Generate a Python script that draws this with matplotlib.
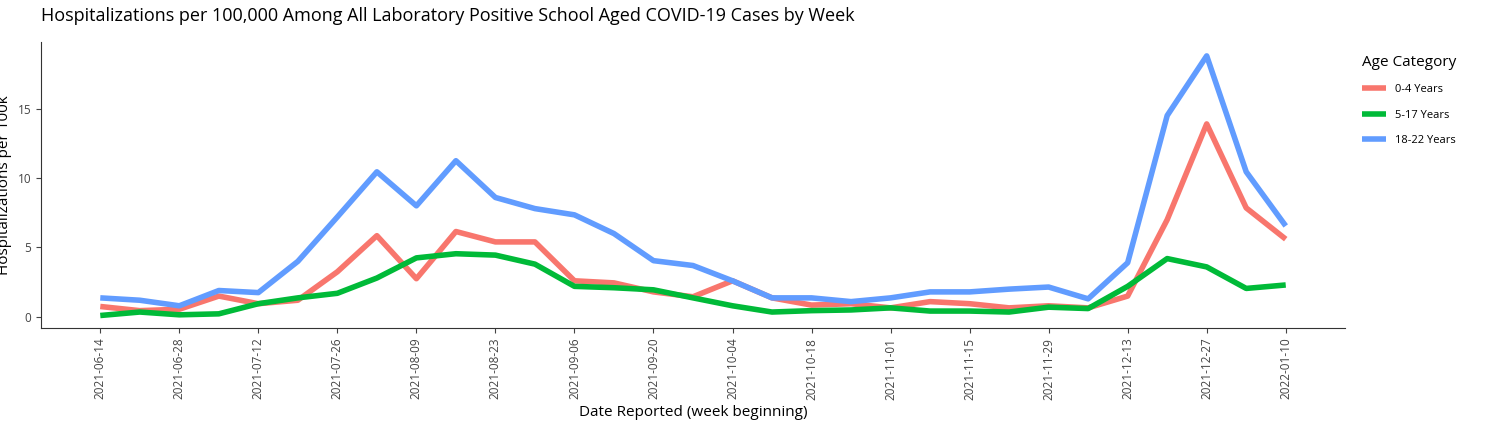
import pandas as pd
import matplotlib.pyplot as plt
import matplotlib.dates as mdates

plt.rcParams['font.family'] = ['Open Sans', 'DejaVu Sans']

weeks = pd.date_range("2021-06-14", "2022-01-10", freq="7D")
age_0_4 = [0.75, 0.45, 0.55, 1.5, 0.95, 1.2, 3.25, 5.85, 2.75, 6.15, 5.4, 5.4, 2.6, 2.45, 1.8,
           1.45, 2.6, 1.37, 0.85, 0.95, 0.65, 1.1, 0.95, 0.65, 0.8, 0.65, 1.5, 7.0, 13.9, 7.85, 5.6]
age_5_17 = [0.1, 0.35, 0.15, 0.22, 0.95, 1.37, 1.7, 2.8, 4.25, 4.55, 4.45, 3.8, 2.2, 2.1, 1.95,
            1.37, 0.8, 0.35, 0.45, 0.5, 0.65, 0.42, 0.42, 0.35, 0.7, 0.6, 2.2, 4.2, 3.6, 2.05, 2.3]
age_18_22 = [1.37, 1.2, 0.8, 1.9, 1.75, 4.0, 7.2, 10.45, 8.0, 11.25, 8.6, 7.8, 7.35, 6.0, 4.05,
             3.7, 2.6, 1.37, 1.37, 1.1, 1.37, 1.8, 1.8, 2.0, 2.15, 1.3, 3.9, 14.5, 18.8, 10.45, 6.55]

series = [("0-4 Years", age_0_4, "#F8766D"),
          ("5-17 Years", age_5_17, "#00BA38"),
          ("18-22 Years", age_18_22, "#619CFF")]

fig = plt.figure(figsize=(14.9, 4.21), dpi=100)
ax = fig.add_axes([41/1490, 1 - 328/421, (1345-41)/1490, (328-42)/421])
for name, vals, col in series:
    ax.plot(weeks, vals, color=col, lw=4, label=name, solid_capstyle='butt')

pad = pd.Timedelta(days=7*1.5)
ax.set_xlim(weeks[0] - pad, weeks[-1] + pad)
ax.set_ylim(-0.8, 19.8)
ax.set_yticks([0, 5, 10, 15])
ax.set_xticks(weeks[::2])
ax.xaxis.set_major_formatter(mdates.DateFormatter("%Y-%m-%d"))
ax.tick_params(axis='x', rotation=90, labelsize=8.5, colors='#444444')
ax.tick_params(axis='y', labelsize=8.5, colors='#444444')
for s in ['top', 'right']:
    ax.spines[s].set_visible(False)
for s in ['left', 'bottom']:
    ax.spines[s].set_color('#333333')
ax.set_xlabel("Date Reported (week beginning)", fontsize=11)
ax.set_ylabel("Hospitalizations per 100k", fontsize=11)
fig.text(41/1490, 1 - 16/421, "Hospitalizations per 100,000 Among All Laboratory Positive School Aged COVID-19 Cases by Week",
         fontsize=13, va='center')
leg = ax.legend(title="Age Category", loc='upper left', bbox_to_anchor=(1.005, 0.99), frameon=False,
                fontsize=8, title_fontsize=11, labelspacing=1.3, handlelength=2.2)
leg._legend_box.align = "left"
fig.savefig("out.png", dpi=100)
